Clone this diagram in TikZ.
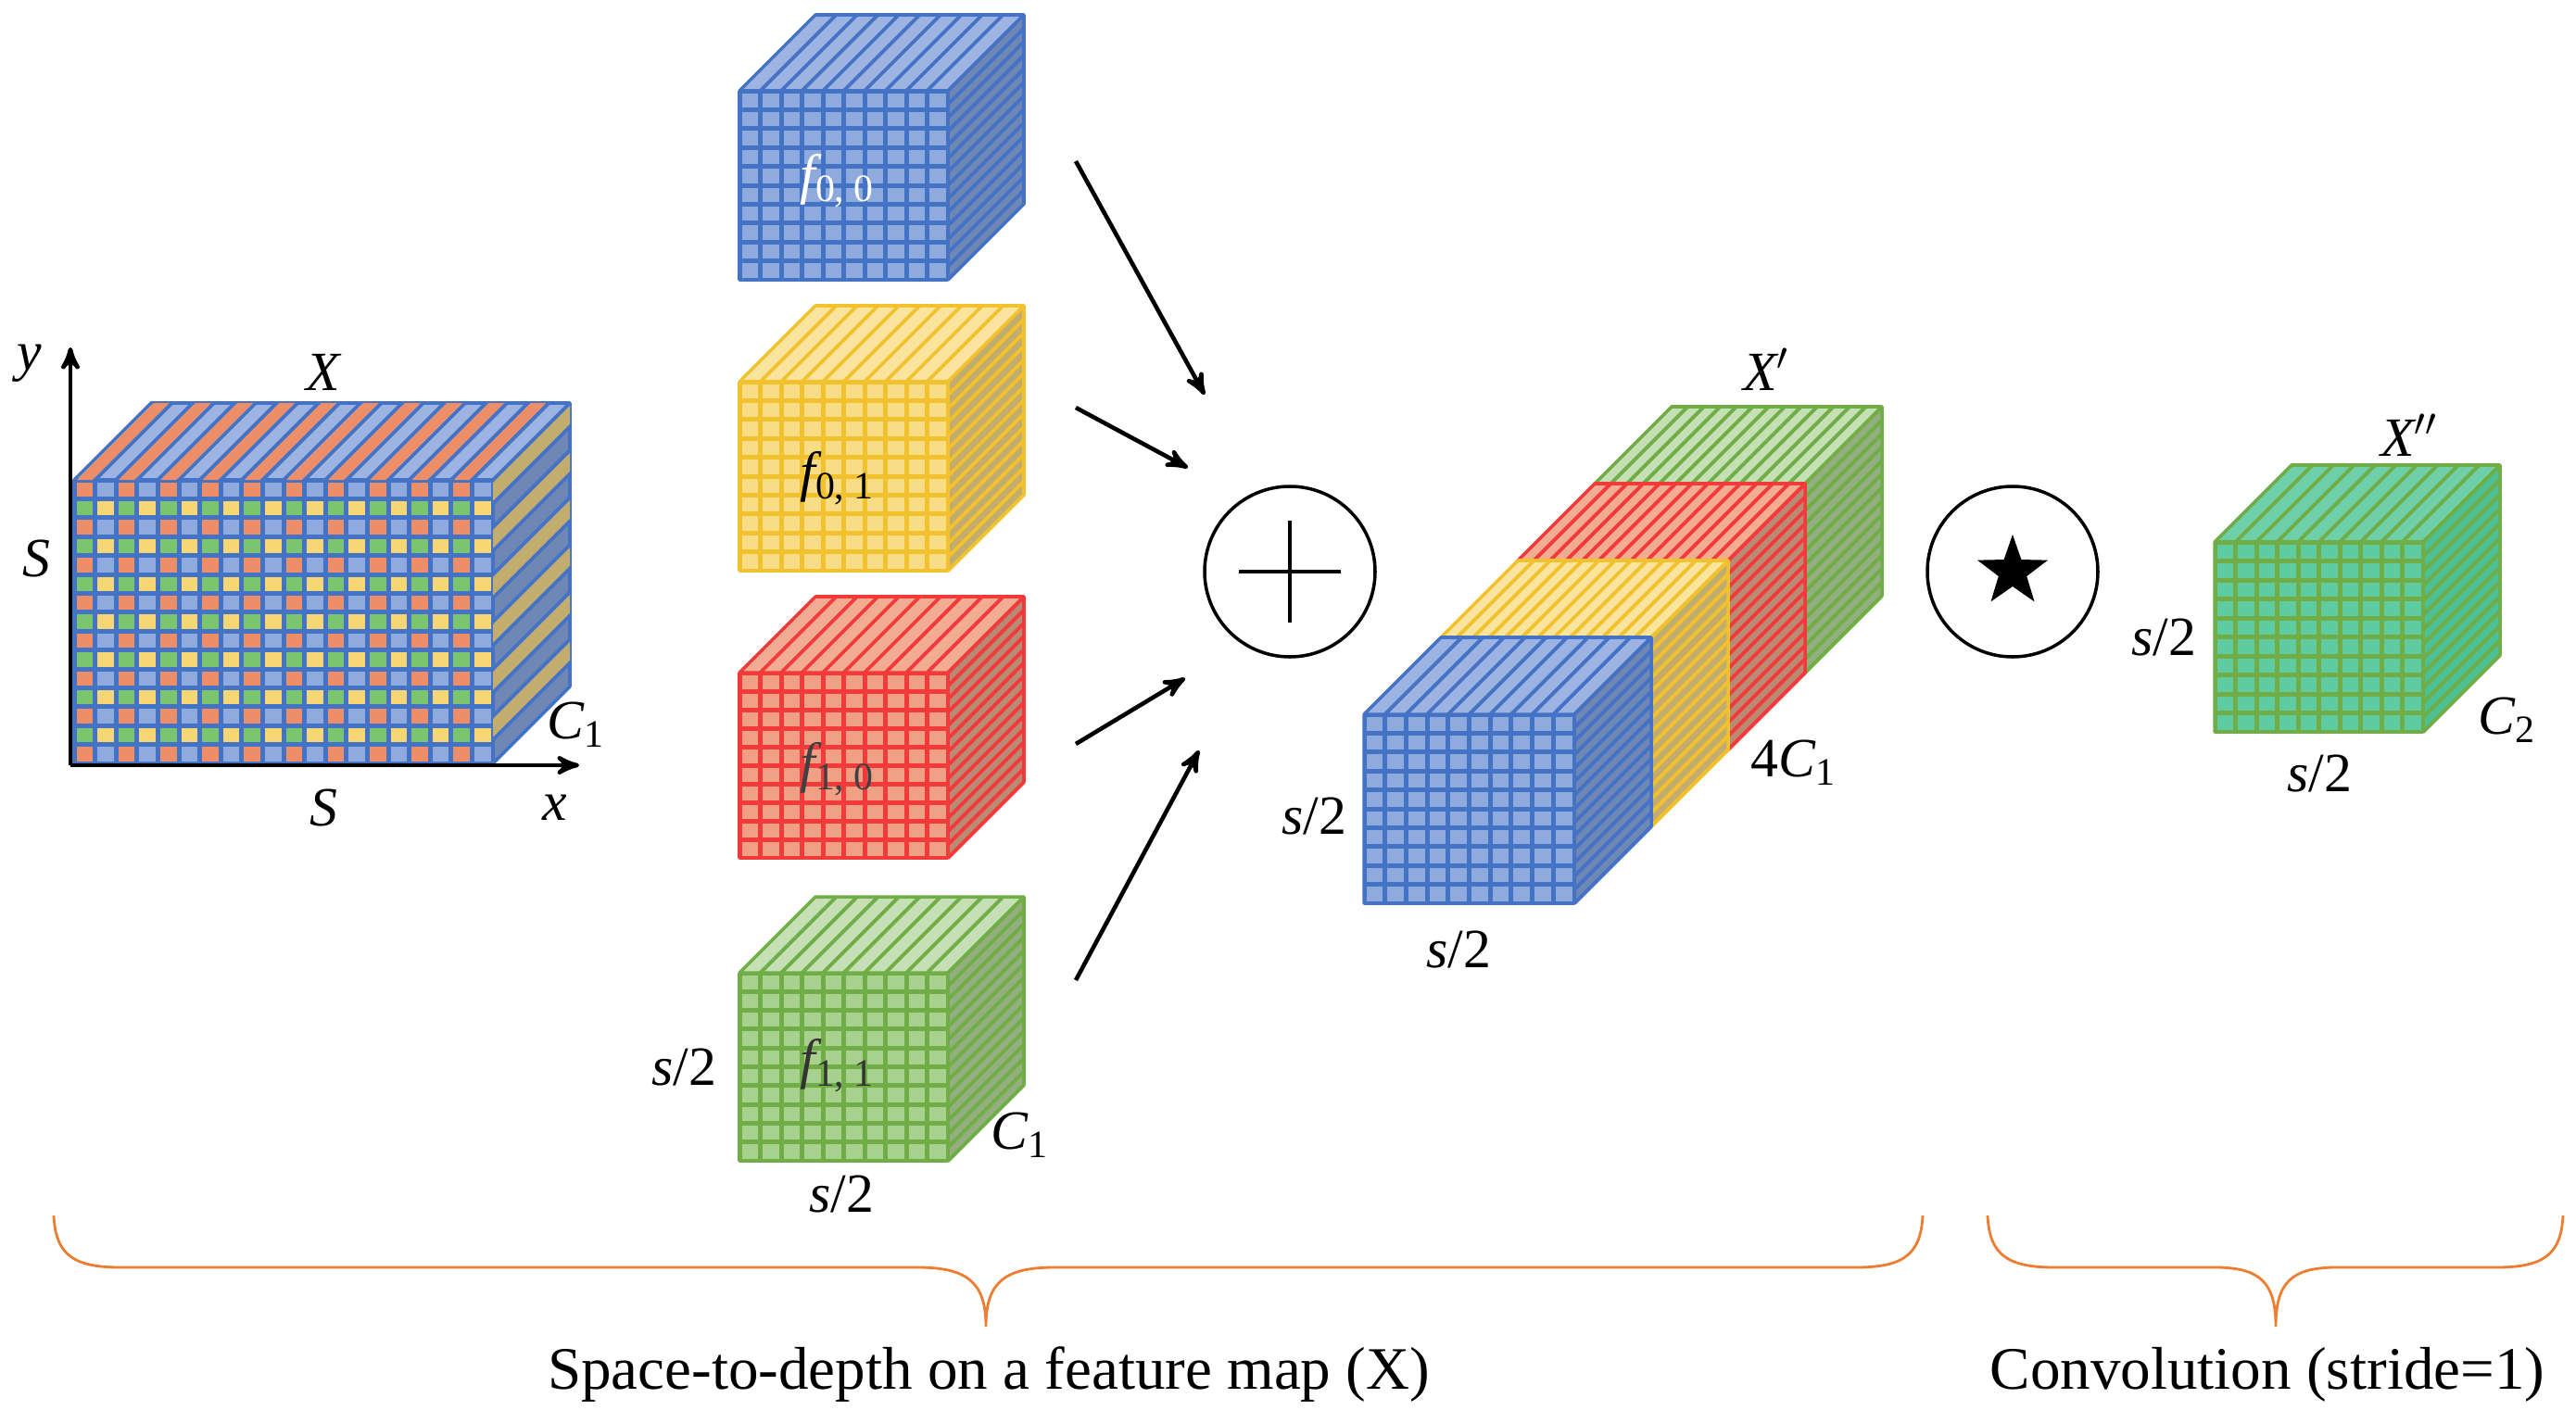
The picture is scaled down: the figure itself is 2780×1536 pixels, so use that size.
\documentclass[tikz,border=0pt]{standalone}
\usepackage{fontspec}
\setmainfont{Liberation Serif}
\usetikzlibrary{arrows,shapes.geometric}

\definecolor{blueline}{HTML}{4472C4}
\definecolor{blueface}{HTML}{8FAADC}
\definecolor{bluetop}{HTML}{9DB4E2}
\definecolor{blueside}{HTML}{6F87B5}
\definecolor{yellowline}{HTML}{F2C12E}
\definecolor{yellowface}{HTML}{F8DC86}
\definecolor{yellowtop}{HTML}{FAE49E}
\definecolor{yellowside}{HTML}{C2AC6E}
\definecolor{redline}{HTML}{F23A3A}
\definecolor{redface}{HTML}{F0A084}
\definecolor{redtop}{HTML}{F2AC92}
\definecolor{redside}{HTML}{B98A74}
\definecolor{greenline}{HTML}{70AD47}
\definecolor{greenface}{HTML}{A9D18E}
\definecolor{greentop}{HTML}{C5E0B4}
\definecolor{greenside}{HTML}{93AF80}
\definecolor{tealline}{HTML}{70AD47}
\definecolor{tealface}{HTML}{5ECBA1}
\definecolor{tealtop}{HTML}{6ED0A8}
\definecolor{tealside}{HTML}{4DC094}
\definecolor{xcell0}{HTML}{EE8E68}
\definecolor{xcell1}{HTML}{8FAADC}
\definecolor{xcell2}{HTML}{7CC46E}
\definecolor{xcell3}{HTML}{F7D774}
\definecolor{bracecol}{HTML}{ED7D31}

% #1,#2 front top-left, #3 width, #4 height, #5 depth, #6 columns, #7 rows, #8 side stripes, #9 colour
\newcommand{\featcube}[9]{%
  \fill[#9top] (#1,#2) -- ++(#3,0) -- ++(#5,-#5) -- ++(-#3,0) -- cycle;
  \fill[#9side] (#1+#3,#2) -- ++(#5,-#5) -- ++(0,#4) -- ++(-#5,#5) -- cycle;
  \foreach \i in {1,...,#6}
    \draw[#9line,line width=1.1pt] ({#1+\i*#3/#6},#2) -- ++(#5,-#5);
  \foreach \j in {1,...,#8}
    \draw[#9line,line width=1.1pt] (#1+#3,{#2+\j*#4/#8}) -- ++(#5,-#5);
  \fill[#9line] (#1,#2) rectangle ++(#3,#4);
  \foreach \i in {1,...,#6}
    \foreach \j in {1,...,#7}
      \fill[#9face] ({#1+(\i-1)*#3/#6+2.5},{#2+(\j-1)*#4/#7+2.5}) rectangle ({#1+\i*#3/#6-2.5},{#2+\j*#4/#7-2.5});
  \draw[#9line,line width=1pt,line join=round] (#1,#2) rectangle ++(#3,#4)
    (#1,#2) -- ++(#5,-#5) -- ++(#3,0) -- ++(0,#4) -- ++(-#5,#5)
    (#1+#3,#2) -- ++(#5,-#5);
}

\begin{document}
\begin{tikzpicture}[x=0.01cm,y=-0.01cm,>=stealth',
  lbl/.style={font=\fontsize{17}{20}\selectfont\itshape, inner sep=1pt},
  caption/.style={font=\fontsize{18.5}{22}\selectfont, inner sep=1pt},
  flow/.style={->,line width=1.3pt},
  op/.style={circle,draw,line width=1pt,minimum size=184*0.01cm, inner sep=0pt},
  brace/.style={bracecol,line width=0.8pt}]

  \useasboundingbox (0,0) rectangle (2780,1536);

  % input feature map X
  \featcube{80}{518}{452}{306}{83}{20}{15}{12}{blue}
  \foreach \i in {0,...,19}
    \foreach \j in {0,...,14} {
      \pgfmathtruncatemacro\k{mod(\i,2)+2*mod(\j,2)}
      \fill[xcell\k] ({80+\i*452/20+2.5},{518+\j*306/15+2.5}) rectangle ({80+(\i+1)*452/20-2.5},{518+(\j+1)*306/15-2.5});
    }
  \foreach \i in {0,2,...,18}
    \fill[xcell0] ({80+\i*452/20+3},518) -- ({80+(\i+1)*452/20-3},518) -- ++(83,-83) -- ({80+\i*452/20+3+83},435) -- cycle;
  \foreach \j in {0,2,...,10}
    \fill[yellowside] (532,{518+\j*306/12+3}) -- (532,{518+(\j+1)*306/12-3}) -- ++(83,-83) -- (615,{518+\j*306/12+3-83}) -- cycle;

  \coordinate (O) at (76,826);
  \coordinate (ytip) at (76,375);
  \coordinate (xtip) at (625,826);
  \draw[->,line width=1.3pt] (O) -- (ytip);
  \draw[->,line width=1.3pt] (O) -- (xtip);

  \node[lbl] (lX) at (349,402) {X};
  \node[lbl] (ly) at (32,392) {y};
  \node[lbl] (lSl) at (39,603) {S};
  \node[lbl] (lSb) at (349,872) {S};
  \node[lbl] (lx) at (599,872) {x};
  \node[lbl] (lC) at (622,782) {C\textsubscript{\upshape 1}};

  % sub-maps
  \featcube{798}{98}{225}{204}{82}{10}{10}{14}{blue}
  \featcube{798}{412}{225}{204}{82}{10}{10}{14}{yellow}
  \featcube{798}{726}{225}{200}{82}{10}{10}{14}{red}
  \featcube{798}{1050}{225}{203}{82}{10}{10}{14}{green}

  \node[lbl,text=white] (f00) at (904,195) {f\textsubscript{\upshape 0, 0}};
  \node[lbl] (f01) at (904,516) {f\textsubscript{\upshape 0, 1}};
  \node[lbl,text=black!75] (f10) at (904,830) {f\textsubscript{\upshape 1, 0}};
  \node[lbl,text=black!80] (f11) at (904,1150) {f\textsubscript{\upshape 1, 1}};
  \node[lbl] (s1) at (738,1152) {s\upshape /2};
  \node[lbl] (s2) at (908,1289) {s\upshape /2};
  \node[lbl] (c1) at (1101,1225) {C\textsubscript{\upshape 1}};

  % concatenation
  \node[op] (plus) at (1392,617) {};
  \draw[line width=1pt] (plus.center) ++(-55,0) -- ++(110,0) (plus.center) ++(0,-55) -- ++(0,110);

  \coordinate (a1) at (1161,174);
  \coordinate (a2) at (1161,440);
  \coordinate (a3) at (1161,803);
  \coordinate (a4) at (1161,1058);
  \coordinate (b1) at (1300,426);
  \coordinate (b2) at (1282,505);
  \coordinate (b3) at (1279,732);
  \coordinate (b4) at (1294,810);
  \foreach \n in {1,...,4}
    \draw[flow] (a\n) -- (b\n);

  % X'
  \featcube{1721}{522}{227}{204}{83}{13}{10}{14}{green}
  \featcube{1638}{605}{227}{204}{83}{13}{10}{14}{red}
  \featcube{1555}{688}{227}{204}{83}{13}{10}{14}{yellow}
  \featcube{1472}{771}{227}{204}{83}{10}{10}{14}{blue}

  \node[lbl] (lXp) at (1906,399) {X$'$};
  \node[lbl] (l4C) at (1936,823) {\upshape 4\itshape C\textsubscript{\upshape 1}};
  \node[lbl] (s3) at (1418,881) {s\upshape /2};
  \node[lbl] (s4) at (1574,1025) {s\upshape /2};

  % convolution
  \node[op] (conv) at (2172,617) {};
  \node[star,star points=5,star point ratio=2.5,fill=black,minimum size=80*0.01cm,inner sep=0pt] (st) at (conv.center) {};

  \featcube{2390}{585}{225}{205}{83}{10}{10}{13}{teal}
  \node[lbl] (lXpp) at (2600,470) {X$''$};
  \node[lbl] (s5) at (2335,688) {s\upshape /2};
  \node[lbl] (s6) at (2503,835) {s\upshape /2};
  \node[lbl] (c2) at (2706,777) {C\textsubscript{\upshape 2}};

  % braces
  \coordinate (L1) at (58,1312);
  \coordinate (L2) at (1064,1432);
  \coordinate (L3) at (2075,1312);
  \coordinate (R1) at (2145,1312);
  \coordinate (R2) at (2456,1432);
  \coordinate (R3) at (2766,1312);
  \draw[brace] (L1) .. controls (60,1355) and (80,1368) .. (130,1368) -- (990,1368)
    .. controls (1045,1368) and (1064,1385) .. (L2)
    .. controls (1064,1385) and (1083,1368) .. (1138,1368) -- (2003,1368)
    .. controls (2053,1368) and (2073,1355) .. (L3);
  \draw[brace] (R1) .. controls (2147,1355) and (2167,1368) .. (2217,1368) -- (2390,1368)
    .. controls (2440,1368) and (2456,1385) .. (R2)
    .. controls (2456,1385) and (2472,1368) .. (2522,1368) -- (2694,1368)
    .. controls (2744,1368) and (2764,1355) .. (R3);

  \node[caption] (cap1) at (1067,1484) {Space-to-depth on a feature map (X)};
  \node[caption] (cap2) at (2447,1484) {Convolution (stride=1)};
\end{tikzpicture}
\end{document}
